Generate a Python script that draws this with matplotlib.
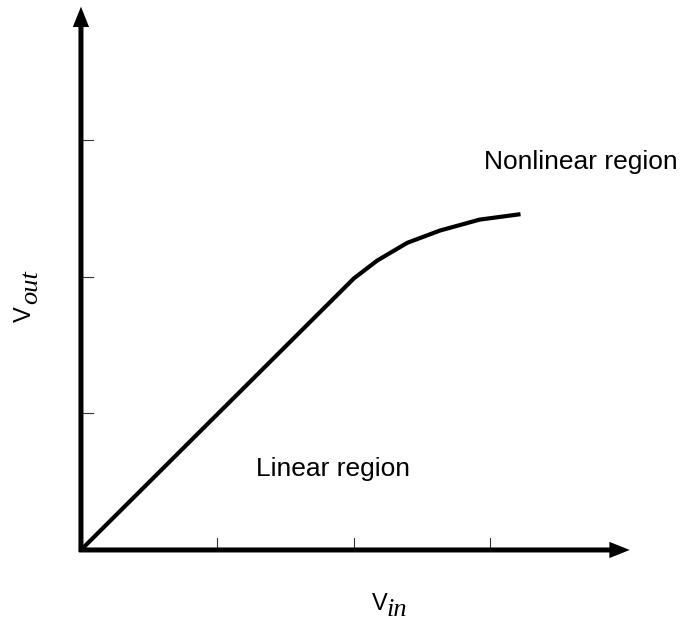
import matplotlib.pyplot as plt

plt.rcParams['font.family'] = ['Liberation Sans', 'DejaVu Sans']

# transfer curve (Vin, Vout)
vin = [0.0, 2.0, 2.17, 2.39, 2.63, 2.92, 3.22]
vout = [0.0, 1.99, 2.12, 2.25, 2.34, 2.42, 2.46]

x_ticks = [1, 2, 3]
y_ticks = [1, 2, 3]
x_max = 4.02
y_max = 3.98

fig = plt.figure(figsize=(6.82, 6.26), dpi=100)
ax = fig.add_axes([0, 0, 1, 1])
ax.set_xlim(-0.593, 4.403)
ax.set_ylim(-0.557, 4.029)
ax.axis('off')

# axes with arrows
arrow = dict(arrowstyle='-|>,head_length=0.8,head_width=0.32', color='black', lw=3.6,
             shrinkA=0, shrinkB=0, joinstyle='miter', capstyle='butt')
ax.annotate('', xy=(x_max, 0), xytext=(-0.015, 0), arrowprops=arrow)
ax.annotate('', xy=(0, y_max), xytext=(0, -0.015), arrowprops=arrow)

# inward ticks
for t in x_ticks:
    ax.plot([t, t], [0, 0.088], color='#333333', lw=0.8)
for t in y_ticks:
    ax.plot([0, 0.088], [t, t], color='#333333', lw=0.8)

ax.plot(vin, vout, color='black', lw=3.0, solid_capstyle='butt', solid_joinstyle='round')

ax.text(3.66, 2.84, 'Nonlinear region', fontsize=19, ha='center', va='center')
ax.text(1.85, 0.59, 'Linear region', fontsize=19, ha='center', va='center')

# axis labels: sans "V" with serif italic subscript
sub = dict(family=['Liberation Serif', 'DejaVu Serif'], style='italic', fontsize=19)
ax.text(2.13, -0.44, 'V', fontsize=17, ha='left', va='baseline')
ax.text(2.24, -0.485, 'in', ha='left', va='baseline', **sub)
ax.text(-0.366, 1.67, 'V', fontsize=17, ha='left', va='baseline',
        rotation=90, rotation_mode='anchor')
ax.text(-0.32, 1.805, 'out', ha='left', va='baseline',
        rotation=90, rotation_mode='anchor', **sub)

fig.savefig('out.png', dpi=100)
